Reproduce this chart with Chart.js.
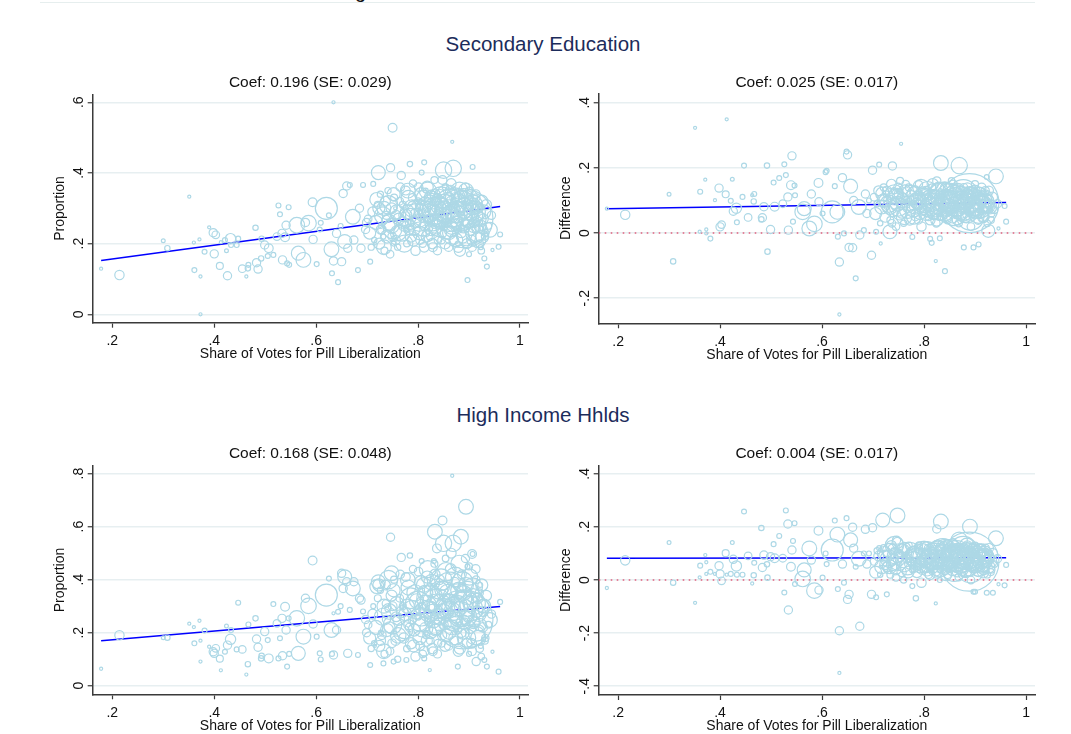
<!DOCTYPE html>
<html>
<head>
<meta charset="utf-8">
<script src="https://cdn.jsdelivr.net/npm/chart.js@4.4.1/dist/chart.umd.min.js"></script>
<style>
html, body { margin: 0; padding: 0; background: #fff; }
body { width: 1071px; height: 734px; overflow: hidden; position: relative; font-family: "Liberation Sans", Arial, sans-serif; }
.section { position: absolute; font-size: 20.5px; color: #1c2c5b; transform: translate(-50%, -50%); white-space: nowrap; }
.cut { position: absolute; left: 355px; top: -19px; font-size: 20px; line-height: 20px; color: #111; }
.rule { position: absolute; left: 40px; top: 2px; width: 995px; height: 1px; background: #e6eeee; }
</style>
</head>
<body>
<div class="rule"></div>
<div class="cut">g</div>
<div class="section" style="left:543px; top:44px;">Secondary Education</div>
<div class="section" style="left:543px; top:415px;">High Income Hhlds</div>

<script>
// municipalities: vote share for pill liberalization and population weight
const share = [
  .178,.214,.300,.308,.351,.360,.361,.371,.373,.373,
  .381,.390,.398,.400,.403,.411,.413,.421,.424,.426,
  .432,.433,.444,.447,.455,.463,.466,.467,.481,.483,
  .486,.492,.493,.499,.505,.507,.516,.523,.526,.529,
  .533,.534,.539,.541,.543,.546,.547,.562,.565,.575,
  .579,.585,.593,.594,.601,.607,.609,.620,.625,.634,
  .630,.634,.631,.643,.640,.648,.650,.653,.656,.660,
  .662,.666,.672,.674,.682,.685,.688,.692,.697,.699,
  .706,.712,.715,.719,.722,.727,.732,.733,.738,.746,
  .748,.752,.750,.755,.767,.784,.812,.807,.823,.850,
  .869,.867,.907,.897,.961,.958,.946,.935,.930,.941,
  .926,.889,.833,.841,.815,.831,.878,.777,.780,.848,
  .837,.884,.894,.906,.922,.914,.825,.890,.900,.923,
  .702,.705,.708,.711,.714,.717,.721,.724,.726,.729,
  .731,.734,.736,.739,.741,.743,.745,.748,.750,.753,
  .756,.758,.760,.762,.765,.768,.770,.772,.775,.778,
  .781,.783,.786,.788,.790,.792,.795,.797,.800,.802,
  .804,.806,.808,.810,.812,.814,.816,.818,.820,.822,
  .824,.826,.828,.830,.832,.834,.836,.838,.840,.842,
  .844,.846,.848,.850,.852,.854,.856,.858,.860,.862,
  .864,.866,.868,.870,.872,.874,.876,.878,.880,.882,
  .884,.886,.888,.890,.892,.894,.896,.898,.900,.902,
  .904,.906,.908,.910,.912,.914,.916,.918,.920,.922,
  .924,.928,.932,
  .723,.727,.733,.737,.742,.744,.749,.752,.757,.761,
  .764,.769,.773,.776,.779,.782,.785,.789,.791,.794,
  .796,.799,.801,.803,.805,.807,.809,.811,.813,.815,
  .817,.819,.821,.823,.825,.827,.829,.831,.833,.835,
  .837,.839,.841,.843,.845,.847,.849,.851,.853,.855,
  .857,.859,.861,.863,.865,.867,.869,.871,.873,.875,
  .877,.879,.881,.883,.885,.887,.889,.891,.893,.895,
  .897,.899,.901,.903,.905,.907,.909,.911,.913,.915,
  .917,.919,.921,.925,.927,.929,.931,.934,.938,.944
];

const weight = [
  2,18,3,6,2,2,5,2,2,2,
  5,2,14,14,12,10,2,5,3,14,
  22,5,5,5,12,2,6,5,6,14,
  14,6,6,14,5,16,5,12,5,5,
  14,14,16,14,5,5,5,50,40,45,
  14,50,16,14,5,5,5,100,5,2,
  45,14,5,5,14,5,14,14,40,14,
  14,5,45,14,5,14,14,5,14,14,
  5,5,2,40,40,5,5,40,14,14,
  45,5,16,2,14,6,5,5,2,55,
  55,2,5,5,5,5,2,5,5,45,
  35,720,45,5,5,5,5,5,45,16,
  16,45,45,16,5,14,14,45,5,5,
  12,30,8,20,6,40,10,25,8,15,
  60,10,20,35,8,50,12,25,70,10,
  18,40,8,28,15,55,10,22,35,9,
  45,14,26,60,11,30,18,42,9,65,
  16,36,12,80,20,48,10,30,16,90,
  12,40,22,60,10,28,75,14,50,20,
  110,12,38,18,85,9,32,60,15,130,
  24,45,11,70,20,40,95,13,55,26,
  150,16,35,80,12,46,20,65,10,30,
  55,15,40,22,75,12,28,48,14,32,
  9,20,11,
  30,18,45,12,70,25,15,35,20,50,
  12,28,60,16,40,22,90,14,30,55,
  20,120,15,38,24,70,12,44,18,100,
  26,60,14,140,30,52,16,85,22,44,
  180,12,65,28,95,18,50,160,24,70,
  14,120,36,200,20,58,110,16,80,30,
  170,22,60,130,18,90,40,150,14,70,
  110,26,55,120,20,80,36,95,16,60,
  24,45,12,30,18,40,10,22,9,14
];

// secondary education: proportion and difference
const propSecondary = [
  .129,.111,.208,.187,.333,.203,.125,.212,.107,.000,
  .177,.246,.231,.171,.225,.137,.204,.210,.180,.109,
  .214,.196,.196,.214,.129,.107,.130,.140,.245,.146,
  .128,.158,.214,.196,.165,.187,.168,.220,.308,.283,
  .229,.154,.218,.252,.144,.303,.140,.252,.173,.154,
  .260,.258,.317,.212,.142,.240,.259,.300,.280,.600,
  .184,.151,.116,.091,.229,.250,.149,.342,.206,.363,
  .187,.366,.276,.210,.125,.300,.187,.366,.240,.260,
  .149,.369,.200,.325,.401,.250,.220,.300,.280,.415,
  .250,.200,.528,.300,.393,.425,.430,.401,.300,.408,
  .413,.488,.417,.097,.226,.191,.182,.135,.158,.239,
  .220,.272,.300,.250,.350,.250,.200,.240,.350,.380,
  .330,.330,.350,.310,.260,.240,.340,.300,.170,.190,
  .27,.23,.19,.29,.21,.26,.31,.20,.34,.24,
  .28,.18,.32,.22,.35,.26,.17,.30,.24,.33,
  .21,.29,.19,.27,.36,.23,.31,.25,.28,.20,
  .33,.26,.22,.30,.37,.24,.18,.28,.32,.26,
  .21,.34,.29,.25,.19,.31,.23,.36,.27,.29,
  .22,.33,.20,.26,.38,.24,.30,.18,.27,.34,
  .28,.21,.31,.25,.29,.36,.23,.32,.19,.27,
  .35,.24,.30,.26,.33,.21,.29,.24,.31,.18,
  .28,.34,.22,.30,.26,.33,.20,.27,.35,.24,
  .29,.19,.31,.26,.23,.33,.28,.21,.30,.25,
  .18,.27,.23,
  .30,.24,.19,.27,.31,.25,.22,.34,.28,.23,
  .32,.26,.20,.35,.29,.24,.27,.33,.21,.30,
  .26,.28,.36,.23,.31,.27,.20,.33,.25,.29,
  .22,.35,.27,.30,.24,.32,.19,.28,.34,.25,
  .29,.21,.31,.26,.33,.23,.28,.30,.20,.34,
  .26,.29,.23,.31,.37,.25,.28,.21,.33,.26,
  .30,.19,.35,.27,.23,.32,.25,.29,.36,.22,
  .30,.26,.33,.28,.21,.31,.25,.29,.34,.23,
  .30,.27,.20,.32,.24,.29,.22,.31,.25,.28
];

const diffSecondary = [
  .075,.056,.119,-.087,.323,.004,.127,.164,-.001,.011,
  -.017,.101,.138,.019,.026,.119,.349,.099,.165,.067,
  .076,.033,.111,.207,.048,.116,.097,.120,.042,.047,
  .081,.207,-.057,.011,.155,.081,.169,.090,.211,.178,
  .111,.009,.147,.237,.035,.146,.116,.065,.075,.014,
  .120,.028,.154,.096,.060,.187,.191,.065,.144,-.250,
  .065,-.089,-.011,-.001,.170,.250,.240,-.044,.144,-.045,
  .100,-.139,.080,-.006,.009,.120,.060,.100,-.068,.193,
  .004,.210,-.032,.120,.100,.080,.100,.004,.206,.110,
  .090,.130,.120,.274,.100,.100,-.018,.090,-.086,.100,
  .207,.120,-.035,-.044,.035,.083,.014,.081,.070,.174,
  .007,.092,.215,-.117,-.030,-.016,-.044,-.012,.050,.120,
  .080,.110,.070,.060,.120,.090,.160,.120,.110,.172,
  .11,.06,.09,.13,.03,.08,.14,.05,.12,.10,
  .09,.04,.15,.07,.13,.11,.02,.12,.08,.16,
  .06,.10,.03,.13,.09,.07,.14,.04,.11,.08,
  .12,.05,.09,.10,.15,.06,.02,.12,.08,.09,
  .13,.07,.11,.08,.04,.10,.14,.06,.12,.09,
  .03,.11,.07,.13,.05,.10,.08,.12,.06,.14,
  .09,.04,.11,.07,.10,.16,.05,.12,.08,.09,
  .06,.13,.03,.10,.08,.11,.07,.14,.09,.05,
  .10,.12,.06,.11,.02,.09,.13,.08,.15,.07,
  .10,.04,.12,.06,.09,.11,.05,.10,.13,.08,
  .03,.09,.06,
  .10,.13,.08,.03,.12,.09,.14,.06,.11,.05,
  .15,.08,.12,.10,.07,.13,.09,.04,.11,.14,
  .07,.10,.12,.06,.09,.13,.05,.11,.08,.10,
  .15,.07,.12,.09,.04,.13,.10,.07,.12,.09,
  .11,.06,.13,.05,.10,.14,.08,.11,.07,.09,
  .15,.06,.12,.10,.04,.11,.08,.13,.09,.06,
  .12,.08,.10,.07,.14,.09,.11,.05,.12,.08,
  .10,.13,.07,.09,.11,.06,.12,.08,.14,.09,
  .05,.11,.07,.10,.13,.08,.04,.11,.07,.09
];

// high income households: proportion and difference
const propHighIncome = [
  .064,.190,.181,.181,.234,.221,.160,.245,.170,.091,
  .208,.147,.128,.122,.141,.102,.058,.128,.225,.153,
  .175,.210,.137,.313,.137,.042,.081,.231,.254,.176,
  .145,.103,.113,.204,.172,.103,.308,.235,.103,.179,
  .254,.113,.298,.210,.072,.254,.120,.254,.122,.185,
  .330,.301,.472,.233,.185,.122,.099,.342,.404,.273,
  .210,.116,.120,.279,.210,.300,.424,.367,.411,.392,
  .122,.286,.367,.392,.116,.330,.323,.280,.250,.200,
  .078,.300,.150,.374,.392,.200,.084,.300,.250,.560,
  .424,.091,.300,.200,.484,.491,.103,.470,.059,.537,
  .537,.792,.497,.449,.316,.053,.128,.072,.097,.248,
  .300,.250,.581,.200,.200,.470,.072,.097,.399,.623,
  .518,.562,.675,.497,.380,.091,.300,.350,.120,.150,
  .23,.18,.14,.27,.16,.22,.33,.15,.36,.19,
  .26,.12,.38,.21,.29,.28,.13,.34,.23,.40,
  .17,.31,.10,.25,.42,.20,.30,.18,.27,.14,
  .37,.22,.16,.29,.44,.21,.11,.32,.26,.24,
  .15,.39,.30,.22,.13,.35,.19,.41,.27,.28,
  .17,.36,.14,.25,.46,.21,.31,.12,.26,.40,
  .30,.16,.37,.23,.29,.48,.19,.35,.15,.27,
  .44,.22,.33,.25,.39,.18,.30,.21,.36,.14,
  .28,.42,.20,.32,.24,.38,.16,.26,.45,.22,
  .31,.13,.34,.24,.19,.40,.28,.18,.35,.23,
  .11,.28,.18,
  .38,.17,.13,.31,.40,.22,.16,.36,.26,.19,
  .33,.28,.21,.41,.30,.23,.33,.25,.15,.35,
  .27,.31,.43,.18,.29,.26,.12,.38,.22,.30,
  .17,.44,.24,.33,.20,.39,.13,.27,.42,.22,
  .31,.16,.36,.25,.40,.19,.28,.34,.15,.43,
  .23,.30,.20,.37,.50,.24,.29,.17,.41,.26,
  .33,.13,.46,.27,.20,.39,.24,.31,.48,.18,
  .35,.26,.41,.29,.16,.37,.24,.31,.44,.20,
  .33,.27,.14,.38,.22,.30,.17,.34,.23,.27
];

const diffHighIncome = [
  -.030,.074,.141,-.010,-.086,.010,.054,.094,.023,.067,
  .031,.023,.054,.023,-.003,.101,.020,.023,.141,.078,
  .053,.020,.020,.258,.091,-.013,.018,.065,.196,.047,
  .094,.059,.009,.088,.135,.082,.166,.082,-.047,.262,
  .211,-.113,.050,.113,.147,.214,-.015,.004,.038,.119,
  .075,-.040,.186,-.038,.009,.100,.060,.113,.224,-.350,
  .171,-.191,-.034,-.010,.060,.233,-.073,-.054,.151,.199,
  .120,.050,.080,-.174,.100,.191,.060,.100,-.054,.197,
  -.065,.120,.050,.226,.100,-.054,.080,.050,.120,.150,
  .243,.060,.100,.100,.080,-.069,.100,.050,-.088,.100,
  .150,.100,.050,-.044,.057,-.020,-.016,-.048,.100,.157,
  .050,.069,.220,.050,.030,.000,.020,-.023,.080,.120,
  .090,.130,.090,.080,.110,.100,.192,.201,-.044,-.048,
  .07,.03,.11,.09,.02,.05,.12,.06,.10,.04,
  .08,.02,.13,.06,.11,.09,.01,.14,.07,.10,
  .03,.11,.00,.12,.08,.05,.13,.06,.09,.04,
  .10,.07,.03,.08,.13,.05,-.01,.11,.09,.06,
  .10,.04,.12,.08,.02,.07,.11,.05,.10,.09,
  .03,.12,.06,.08,.04,.07,.10,.13,.05,.09,
  .08,.02,.11,.06,.09,.12,.04,.10,.07,.08,
  .05,.11,.01,.09,.06,.10,.07,.12,.08,.03,
  .09,.11,.04,.10,.00,.08,.12,.06,.13,.05,
  .09,.03,.11,.05,.08,.10,.03,.09,.12,.07,
  .02,.08,.04,
  .09,.05,.11,.07,.13,.04,.10,.08,.12,.06,
  .09,.03,.11,.07,.10,.05,.08,.12,.06,.09,
  .04,.10,.13,.07,.05,.11,.02,.09,.06,.08,
  .12,.07,.10,.09,.03,.12,.08,.05,.11,.07,
  .10,.04,.12,.02,.08,.13,.06,.10,.05,.09,
  .14,.04,.11,.09,.03,.10,.07,.12,.08,.04,
  .11,.06,.09,.06,.13,.08,.10,.04,.11,.07,
  .09,.12,.06,.08,.10,.05,.11,.07,.12,.08,
  .04,.10,.06,.09,.12,.07,.03,.10,.06,.08
];

// fitted lines (end points)
const fitX = [0.178, 0.961];
const fitPropSecondary = [0.152, 0.305];
const fitDiffSecondary = [0.0745, 0.094];
const fitPropHighIncome = [0.170, 0.299];
const fitDiffHighIncome = [0.082, 0.084];

const coefTitles = [
  "Coef: 0.196 (SE: 0.029)",
  "Coef: 0.025 (SE: 0.017)",
  "Coef: 0.168 (SE: 0.048)",
  "Coef: 0.004 (SE: 0.017)"
];

const xTicks = [0.2, 0.4, 0.6, 0.8, 1];
const xTickLabels = [".2", ".4", ".6", ".8", "1"];
const yTicksPropSecondary = [0, 0.2, 0.4, 0.6];
const yLabelsPropSecondary = ["0", ".2", ".4", ".6"];
const yTicksDiffSecondary = [-0.2, 0, 0.2, 0.4];
const yLabelsDiffSecondary = ["-.2", "0", ".2", ".4"];
const yTicksPropHighIncome = [0, 0.2, 0.4, 0.6, 0.8];
const yLabelsPropHighIncome = ["0", ".2", ".4", ".6", ".8"];
const yTicksDiffHighIncome = [-0.4, -0.2, 0, 0.2, 0.4];
const yLabelsDiffHighIncome = ["-.4", "-.2", "0", ".2", ".4"];

Chart.defaults.font.family = '"Liberation Sans", Arial, Helvetica, sans-serif';
Chart.defaults.color = "#111";

const AXIS = "#3a3a3a";
const GRID = "#e7eff1";
const MARK = "#add8e6";

function makePanel(p) {
  const cl = Math.round(p.left - 62);
  const ct = Math.round(p.titleY - 14);
  const cw = Math.round(p.right - cl + 8);
  const ch = Math.round(p.bottom - ct + 42);
  const canvas = document.createElement("canvas");
  canvas.width = cw;
  canvas.height = ch;
  canvas.style.cssText = "position:absolute;left:" + cl + "px;top:" + ct + "px;width:" + cw + "px;height:" + ch + "px";
  document.body.appendChild(canvas);

  const YW = 41, XH = 40, TS = 15.5, TLH = TS * 1.2;
  const padTop = (p.titleY - ct) - TLH / 2;
  const titleBottom = (p.top - ct) - padTop - TLH;

  const bubbles = share.map(function (x, i) {
    return { x: x, y: p.values[i], r: Math.sqrt(weight[i]) * 1.1 };
  });

  const datasets = [
    {
      type: "bubble",
      data: bubbles,
      backgroundColor: "rgba(0,0,0,0)",
      borderColor: MARK,
      borderWidth: 1.2
    },
    {
      type: "line",
      data: fitX.map(function (x, i) { return { x: x, y: p.fit[i] }; }),
      borderColor: "#0000ff",
      borderWidth: 1.5,
      pointRadius: 0,
      tension: 0
    }
  ];

  if (p.zeroLine) {
    datasets.push({
      type: "line",
      data: [{ x: p.xMin, y: 0 }, { x: p.xMax, y: 0 }],
      borderColor: "#e0607e",
      borderWidth: 1.6,
      borderDash: [1.6, 4.4],
      pointRadius: 0
    });
  }

  new Chart(canvas, {
    type: "bubble",
    data: { datasets: datasets },
    options: {
      responsive: false,
      animation: false,
      events: [],
      layout: {
        autoPadding: false,
        padding: {
          left: (p.left - cl) - YW,
          top: padTop,
          right: cw - (p.right - cl),
          bottom: ch - XH - (p.bottom - ct)
        }
      },
      plugins: {
        legend: { display: false },
        tooltip: { enabled: false },
        title: {
          display: true,
          text: p.title,
          fullSize: false,
          color: "#111",
          font: { size: TS, weight: "normal", lineHeight: 1.2 },
          padding: { top: 0, bottom: titleBottom }
        }
      },
      scales: {
        x: {
          type: "linear",
          min: p.xMin,
          max: p.xMax,
          afterBuildTicks: function (scale) {
            scale.ticks = xTicks.map(function (v) { return { value: v }; });
          },
          afterFit: function (scale) { scale.height = XH; },
          ticks: {
            autoSkip: false,
            maxRotation: 0,
            padding: 5,
            color: "#111",
            font: { size: 14 },
            callback: function (v, i) { return xTickLabels[i]; }
          },
          grid: {
            drawOnChartArea: false,
            drawTicks: true,
            tickLength: 5,
            tickColor: AXIS,
            tickWidth: 1.2
          },
          border: { display: true, color: AXIS, width: 1.5 },
          title: {
            display: true,
            text: "Share of Votes for Pill Liberalization",
            color: "#111",
            font: { size: 14 },
            padding: 0
          }
        },
        y: {
          type: "linear",
          min: p.yMin,
          max: p.yMax,
          afterBuildTicks: function (scale) {
            scale.ticks = p.yTicks.map(function (v) { return { value: v }; });
          },
          afterFit: function (scale) { scale.width = YW; },
          ticks: {
            autoSkip: false,
            minRotation: 90,
            maxRotation: 90,
            crossAlign: "center",
            padding: p.yPad,
            color: "#111",
            font: { size: 14 },
            callback: function (v, i) { return p.yLabels[i]; }
          },
          grid: {
            drawOnChartArea: true,
            color: GRID,
            lineWidth: 1.5,
            drawTicks: true,
            tickLength: 5,
            tickColor: AXIS,
            tickWidth: 1.2
          },
          border: { display: true, color: AXIS, width: 1.5 },
          title: {
            display: true,
            text: p.yTitle,
            color: "#111",
            font: { size: 14 },
            padding: 0
          }
        }
      }
    }
  });
}

makePanel({
  left: 92.7, top: 94.3, right: 528, bottom: 322.7, titleY: 82.3,
  xMin: 0.1615, xMax: 1.0157, yMin: -0.0238, yMax: 0.6226,
  values: propSecondary, fit: fitPropSecondary, title: coefTitles[0],
  yTicks: yTicksPropSecondary, yLabels: yLabelsPropSecondary,
  yTitle: "Proportion", yPad: 2.5, zeroLine: false
});

makePanel({
  left: 598.7, top: 93.3, right: 1035, bottom: 323.3, titleY: 82.7,
  xMin: 0.162, xMax: 1.0176, yMin: -0.277, yMax: 0.429,
  values: diffSecondary, fit: fitDiffSecondary, title: coefTitles[1],
  yTicks: yTicksDiffSecondary, yLabels: yLabelsDiffSecondary,
  yTitle: "Difference", yPad: 0.5, zeroLine: true
});

makePanel({
  left: 92.7, top: 465.7, right: 528, bottom: 694.3, titleY: 453.3,
  xMin: 0.1615, xMax: 1.0157, yMin: -0.0325, yMax: 0.830,
  values: propHighIncome, fit: fitPropHighIncome, title: coefTitles[2],
  yTicks: yTicksPropHighIncome, yLabels: yLabelsPropHighIncome,
  yTitle: "Proportion", yPad: 2.5, zeroLine: false
});

makePanel({
  left: 598.7, top: 465.3, right: 1035, bottom: 695, titleY: 454,
  xMin: 0.162, xMax: 1.0176, yMin: -0.433, yMax: 0.432,
  values: diffHighIncome, fit: fitDiffHighIncome, title: coefTitles[3],
  yTicks: yTicksDiffHighIncome, yLabels: yLabelsDiffHighIncome,
  yTitle: "Difference", yPad: 0.5, zeroLine: true
});
</script>
</body>
</html>
